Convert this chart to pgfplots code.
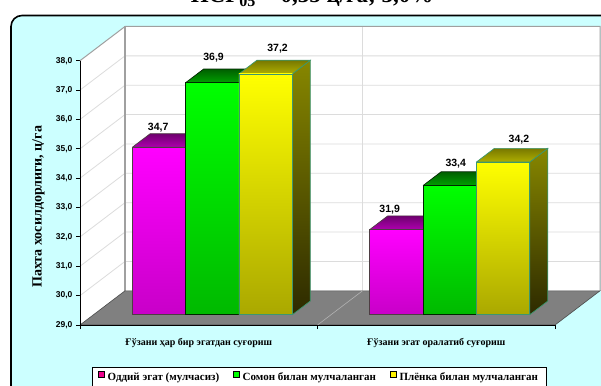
\documentclass[border=0pt]{standalone}
\usepackage{fontspec}
\setmainfont{Liberation Serif}
\newfontfamily\sansfont{Liberation Sans}
\usepackage{pgfplots}
\usepackage{pgfplotstable}
\pgfplotsset{compat=1.18}

\definecolor{panel}{HTML}{CCFFFF}
\definecolor{floorc}{HTML}{808080}
\definecolor{gridc}{HTML}{DCDCDC}
\definecolor{wallc}{HTML}{A0A0A0}

% depth projection (axis units) and bar geometry
\newcommand\dX{0.18947}
\newcommand\dY{1.1645}
\newcommand\dA{0.3}
\newcommand\dB{0.7}
\newcommand\bw{0.2246}

% faces of a bar: u = left/right, t = bottom/top, d = front/back
\pgfplotstableread{
u t d
0 0 0
1 0 0
1 1 0
0 1 0
0 0 0
}\frontface
\pgfplotstableread{
u t d
0 1 0
1 1 0
1 1 1
0 1 1
0 1 0
}\topface
\pgfplotstableread{
u t d
1 0 0
1 0 1
1 1 1
1 1 0
1 0 0
}\sideface

\pgfplotsset{
  magfront/.style={draw=black!80!magenta, top color={rgb,255:red,255;green,0;blue,255}, bottom color={rgb,255:red,200;green,0;blue,200}},
  magtop/.style={draw=black!80!magenta, top color={rgb,255:red,110;green,0;blue,110}, bottom color={rgb,255:red,175;green,0;blue,175}},
  magside/.style={draw=black!80!magenta, top color={rgb,255:red,128;green,0;blue,128}, bottom color={rgb,255:red,60;green,0;blue,60}},
  grnfront/.style={draw=black!85!green, top color={rgb,255:red,0;green,255;blue,0}, bottom color={rgb,255:red,0;green,185;blue,0}},
  grntop/.style={draw=black!85!green, top color={rgb,255:red,0;green,95;blue,0}, bottom color={rgb,255:red,0;green,160;blue,0}},
  grnside/.style={draw=black!85!green, top color={rgb,255:red,0;green,128;blue,0}, bottom color={rgb,255:red,0;green,60;blue,0}},
  ylwfront/.style={draw={rgb,255:red,60;green,150;blue,110}, top color={rgb,255:red,255;green,255;blue,0}, bottom color={rgb,255:red,170;green,168;blue,0}},
  ylwtop/.style={draw={rgb,255:red,60;green,150;blue,110}, top color={rgb,255:red,120;green,120;blue,0}, bottom color={rgb,255:red,175;green,175;blue,0}},
  ylwside/.style={draw={rgb,255:red,60;green,150;blue,110}, top color={rgb,255:red,135;green,135;blue,0}, bottom color={rgb,255:red,45;green,42;blue,0}},
}

% #1 left edge (front plane), #2 value, #3 series style, #4/#5 label shift
\newcommand\drawbar[5]{%
  \addplot[#3side, line width=0.7pt, forget plot] table[
    x expr={#1+\thisrow{u}*\bw+(\dA+\thisrow{d}*(\dB-\dA))*\dX},
    y expr={29+\thisrow{t}*(#2-29)+(\dA+\thisrow{d}*(\dB-\dA))*\dY}] {\sideface};
  \addplot[#3top, line width=0.7pt, forget plot] table[
    x expr={#1+\thisrow{u}*\bw+(\dA+\thisrow{d}*(\dB-\dA))*\dX},
    y expr={29+\thisrow{t}*(#2-29)+(\dA+\thisrow{d}*(\dB-\dA))*\dY}] {\topface};
  \addplot[#3front, line width=0.7pt, forget plot] table[
    x expr={#1+\thisrow{u}*\bw+(\dA+\thisrow{d}*(\dB-\dA))*\dX},
    y expr={29+\thisrow{t}*(#2-29)+(\dA+\thisrow{d}*(\dB-\dA))*\dY}] {\frontface};
  \node[font=\sansfont\bfseries\fontsize{10.5}{12}\selectfont, anchor=base,
        xshift=#4pt, yshift=#5pt, inner sep=0pt]
    at (axis cs:{#1+0.5*\bw+\dA*\dX},{#2+\dA*\dY})
    {\pgfmathprintnumber[fixed,fixed zerofill,precision=1,use comma]{#2}};
}

\pgfkeys{/pgf/number format/assume math mode=true}

\begin{document}
\begin{tikzpicture}[x=1pt,y=1pt]
\useasboundingbox (0,0) rectangle (601,385);
\clip (0,0) rectangle (601,385);
\fill[white] (0,0) rectangle (601,385);

% heading (partly above the page edge)
\node[anchor=base, font=\bfseries\fontsize{23}{26}\selectfont, inner sep=0pt]
  at (312,382) {НСР\textsubscript{05} = 0,35 ц/га; 3,0\%};

% chart panel
\draw[fill=panel, line width=1.6pt, rounded corners=11pt] (11,369.5) rectangle (640,-30);

\begin{axis}[
  scale only axis, width=520pt, height=298.5pt,
  at={(80pt,60pt)}, anchor=south west,
  xmin=0, xmax=2.18947, ymin=29, ymax=39.1645,
  clip=false,
  axis lines*=left, axis line style={draw=none},
  tick align=outside, major tick length=4pt,
  tick style={black, line width=0.8pt},
  ytick={29,30,...,38}, xtick={0,1,2}, xticklabels={},
  yticklabel style={font=\sansfont\bfseries\fontsize{8.5}{10}\selectfont,
    /pgf/number format/.cd, fixed, fixed zerofill, precision=1, use comma},
  ylabel={Пахта хосилдорлиги, ц/га},
  every axis y label/.style={at={(axis description cs:-0.0798,0.3963)}, rotate=90, anchor=center,
    font=\bfseries\fontsize{14}{16}\selectfont},
  legend columns=3,
  legend cell align=left,
  legend image code/.code={\draw[#1, draw=black, line width=0.5pt] (0pt,0pt) rectangle (6pt,6pt);},
  legend style={at={(axis description cs:0.0225,-0.1417)}, anchor=north west,
    draw=black, line width=0.8pt, fill=white,
    font=\bfseries\fontsize{11}{12}\selectfont,
    inner xsep=6pt, inner ysep=3pt,
    /tikz/every odd column/.append style={column sep=1pt},
    /tikz/every even column/.append style={column sep=12pt}},
]

% back wall, side wall and floor
\addplot[fill=white, draw=none, forget plot] coordinates
  {(0.18947,30.1645) (2.18947,30.1645) (2.18947,39.1645) (0.18947,39.1645) (0.18947,30.1645)};
\addplot[fill=white, draw=none, forget plot] coordinates
  {(0,29) (0.18947,30.1645) (0.18947,39.1645) (0,38) (0,29)};

% grid lines on the walls
\pgfplotsinvokeforeach{30,31,...,37}{
  \draw[gridc, line width=0.8pt] (axis cs:0,#1) -- (axis cs:\dX,{#1+\dY}) -- (axis cs:{2+\dX},{#1+\dY});
}
\draw[gridc, line width=0.8pt] (axis cs:{1+\dX},{29+\dY}) -- (axis cs:{1+\dX},{38+\dY});

% wall edges
\draw[wallc, line width=1pt] (axis cs:0,38) -- (axis cs:\dX,{38+\dY}) -- (axis cs:{2+\dX},{38+\dY}) -- (axis cs:{2+\dX},{29+\dY});
\draw[wallc, line width=1.2pt] (axis cs:\dX,{29+\dY}) -- (axis cs:\dX,{38+\dY});

\addplot[fill=floorc, draw=black!70, line width=0.6pt, forget plot] coordinates
  {(0,29) (2,29) (2.18947,30.1645) (0.18947,30.1645) (0,29)};
\draw[gray!60, line width=0.6pt] (axis cs:1,29) -- (axis cs:{1+\dX},{29+\dY});

% bars: group 1
\drawbar{0.1631}{34.7}{mag}{-0.7}{16.6}
\drawbar{0.3877}{36.9}{grn}{1.3}{22}
\drawbar{0.6123}{37.2}{ylw}{12}{22}
% bars: group 2
\drawbar{1.1631}{31.9}{mag}{-6.7}{17.3}
\drawbar{1.3877}{33.4}{grn}{6}{18.8}
\drawbar{1.6123}{34.2}{ylw}{15.8}{19.3}

% front axis lines
\draw[black, line width=0.8pt] (axis cs:0,38) -- (axis cs:0,29) -- (axis cs:2,29);

% category names
\node[anchor=base, font=\bfseries\fontsize{10}{11}\selectfont] at (axis cs:0.5,29) [yshift=-20pt] {Ғўзани ҳар бир эгатдан суғориш};
\node[anchor=base, font=\bfseries\fontsize{10}{11}\selectfont] at (axis cs:1.5,29) [yshift=-20pt] {Ғўзани эгат оралатиб суғориш};

\addlegendimage{fill=magenta}
\addlegendentry{Оддий эгат (мулчасиз)}
\addlegendimage{fill={rgb,255:red,0;green,255;blue,0}}
\addlegendentry{Сомон билан мулчаланган}
\addlegendimage{fill=yellow}
\addlegendentry{Плёнка билан мулчаланган}
\end{axis}
\end{tikzpicture}
\end{document}
